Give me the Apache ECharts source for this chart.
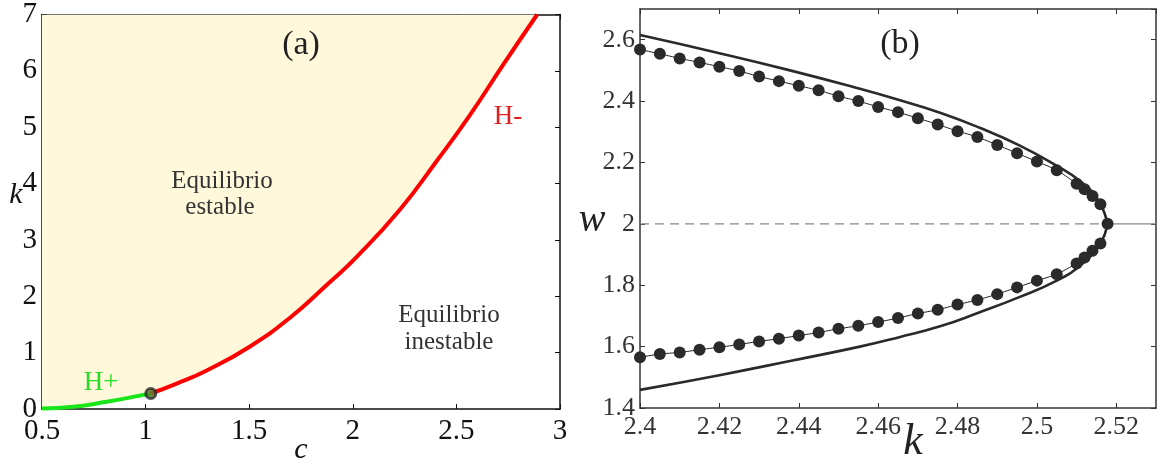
<!DOCTYPE html>
<html>
<head>
<meta charset="utf-8">
<script src="https://cdn.jsdelivr.net/npm/echarts@6/dist/echarts.min.js"></script>
<style>
html,body{margin:0;padding:0;background:#fff;}
#chart{width:1176px;height:471px;}
</style>
</head>
<body>
<div id="chart"></div>
<script>
// ---------- Panel (a) data: stability boundary k(c) ----------
const greenC = [0.5, 0.651, 0.812, 0.94, 1.025];
const greenK = [0.01, 0.04, 0.128, 0.215, 0.275];
const redC = [1.025, 1.15, 1.295, 1.504, 1.697, 1.874, 2.019, 2.228, 2.405, 2.566, 2.726, 2.89];
const redK = [0.275, 0.45, 0.683, 1.11, 1.62, 2.20, 2.70, 3.54, 4.40, 5.22, 6.11, 7.0];
const hopfPoint = [1.025, 0.275];

// ---------- Panel (b) data ----------
const outerUpperK = [2.4, 2.42, 2.4378, 2.4554, 2.4651, 2.4756, 2.4856, 2.4957, 2.505, 2.5108, 2.515, 2.5171, 2.5176];
const outerUpperW = [2.615, 2.556, 2.500, 2.440, 2.404, 2.362, 2.313, 2.255, 2.189, 2.140, 2.086, 2.032, 2.0];
const outerLowerK = [2.5171, 2.515, 2.5108, 2.505, 2.4957, 2.4856, 2.4756, 2.4651, 2.4554, 2.4378, 2.42, 2.4];
const outerLowerW = [1.966, 1.918, 1.863, 1.815, 1.762, 1.712, 1.666, 1.630, 1.600, 1.553, 1.507, 1.459];

const circUpperK = [2.400, 2.405, 2.410, 2.415, 2.420, 2.425, 2.430, 2.435, 2.440, 2.445, 2.450, 2.455, 2.460,
                    2.465, 2.470, 2.475, 2.480, 2.485, 2.490, 2.495, 2.500, 2.505, 2.510, 2.512, 2.514, 2.516, 2.5178];
const circUpperW = [2.568, 2.554, 2.539, 2.526, 2.512, 2.498, 2.480, 2.465, 2.450, 2.435, 2.416, 2.400, 2.381,
                    2.364, 2.344, 2.324, 2.302, 2.283, 2.257, 2.230, 2.203, 2.175, 2.131, 2.113, 2.091, 2.064, 2.0];
const circLowerK = [2.516, 2.514, 2.512, 2.510, 2.505, 2.500, 2.495, 2.490, 2.485, 2.480, 2.475, 2.470, 2.465, 2.460,
                    2.455, 2.450, 2.445, 2.440, 2.435, 2.430, 2.425, 2.420, 2.415, 2.410, 2.405, 2.400];
const circLowerW = [1.936, 1.912, 1.890, 1.871, 1.836, 1.815, 1.793, 1.771, 1.752, 1.737, 1.720, 1.708, 1.693, 1.680,
                    1.668, 1.658, 1.646, 1.636, 1.626, 1.617, 1.607, 1.598, 1.590, 1.581, 1.576, 1.565];

const equilibriumW = 2;
const kRangeB = [2.4, 2.5178, 2.53];

// axis ticks
const ticksA = { xMin: 0.5, xMax: 3, xStep: 0.5, yMin: 0, yMax: 7, yStep: 1 };
const ticksB = { xMin: 2.4, xMax: 2.53, xStep: 0.02, yMin: 1.4, yMax: 2.7, yStep: 0.2 };

const zip = (a, b) => a.map((v, i) => [v, b[i]]);

const SERIF = "'Liberation Serif', 'DejaVu Serif', serif";

function mainX(gi, t, fs, color, showMax, margin) {
  return {
    gridIndex: gi, type: 'value', position: 'bottom',
    min: t.xMin, max: t.xMax, interval: t.xStep,
    axisLine: { show: true, onZero: false, lineStyle: { color: color, width: 1.5 } },
    axisTick: { show: true, inside: true, length: 5, lineStyle: { color: color } },
    axisLabel: { show: true, margin: margin, color: color, fontFamily: SERIF, fontSize: fs, lineHeight: fs * 0.75,
      showMaxLabel: showMax, showMinLabel: true,
      formatter: v => String(+v.toFixed(2)) },
    splitLine: { show: false }
  };
}
function mirrorX(gi, t, color) {
  return {
    gridIndex: gi, type: 'value', position: 'top',
    min: t.xMin, max: t.xMax, interval: t.xStep,
    axisLine: { show: true, onZero: false, lineStyle: { color: color, width: 1.5 } },
    axisTick: { show: true, inside: true, length: 5, lineStyle: { color: color } },
    axisLabel: { show: false }, splitLine: { show: false }
  };
}
function mainY(gi, t, fs, color, showMax) {
  return {
    gridIndex: gi, type: 'value', position: 'left',
    min: t.yMin, max: t.yMax, interval: t.yStep,
    axisLine: { show: true, onZero: false, lineStyle: { color: color, width: 1.5 } },
    axisTick: { show: true, inside: true, length: 5, lineStyle: { color: color } },
    axisLabel: { show: true, margin: 5, color: color, fontFamily: SERIF, fontSize: fs, lineHeight: fs * 0.7,
      showMaxLabel: showMax,
      formatter: v => String(+v.toFixed(2)) },
    splitLine: { show: false }
  };
}
function mirrorY(gi, t, color) {
  return {
    gridIndex: gi, type: 'value', position: 'right',
    min: t.yMin, max: t.yMax, interval: t.yStep,
    axisLine: { show: true, onZero: false, lineStyle: { color: color, width: 1.5 } },
    axisTick: { show: true, inside: true, length: 5, lineStyle: { color: color } },
    axisLabel: { show: false }, splitLine: { show: false }
  };
}

function txt(text, x, y, size, color, italic) {
  return {
    type: 'text', z: 100,
    style: {
      text: text, x: x, y: y, align: 'center', verticalAlign: 'middle',
      fill: color, fontFamily: SERIF, fontSize: size, fontStyle: italic ? 'italic' : 'normal'
    }
  };
}

const chart = echarts.init(document.getElementById('chart'), null, { renderer: 'canvas' });

const fillData = zip(greenC, greenK).concat(zip(redC, redK).slice(1));

const option = {
  animation: false,
  backgroundColor: '#ffffff',
  textStyle: { fontFamily: SERIF },
  grid: [
    { left: 42, top: 9, width: 518, height: 400 },
    { left: 640, top: 9, width: 516, height: 399 }
  ],
  xAxis: [
    mainX(0, ticksA, 29, '#111', true, 12),
    mirrorX(0, ticksA, '#111'),
    mainX(1, ticksB, 26, '#333', false, 9),
    mirrorX(1, ticksB, '#333')
  ],
  yAxis: [
    mainY(0, ticksA, 29, '#111', true),
    mirrorY(0, ticksA, '#111'),
    mainY(1, ticksB, 26, '#333', false),
    mirrorY(1, ticksB, '#333')
  ],
  series: [
    // panel (a) stable region fill
    {
      type: 'line', xAxisIndex: 0, yAxisIndex: 0, data: fillData, smooth: 0.5,
      showSymbol: false, lineStyle: { width: 0, opacity: 0 },
      areaStyle: { color: '#fff8da', opacity: 1, origin: 'end' }, z: 1
    },
    {
      type: 'line', xAxisIndex: 0, yAxisIndex: 0, data: zip(greenC, greenK), smooth: 0.5,
      showSymbol: false, lineStyle: { color: '#19e619', width: 4 }, z: 3
    },
    {
      type: 'line', xAxisIndex: 0, yAxisIndex: 0, data: zip(redC, redK), smooth: 0.5,
      showSymbol: false, lineStyle: { color: '#ff0000', width: 4 }, z: 3
    },
    {
      type: 'scatter', xAxisIndex: 0, yAxisIndex: 0, data: [hopfPoint],
      symbol: 'circle', symbolSize: 10,
      itemStyle: { color: '#5a7a2a', borderColor: '#2b2b2b', borderWidth: 3 }, z: 5
    },
    // panel (b) equilibrium line
    {
      type: 'line', xAxisIndex: 2, yAxisIndex: 2,
      data: [[kRangeB[0], equilibriumW], [kRangeB[1], equilibriumW]],
      showSymbol: false, lineStyle: { color: '#888', width: 1.2, type: [9, 6] }, z: 1
    },
    {
      type: 'line', xAxisIndex: 2, yAxisIndex: 2,
      data: [[kRangeB[1], equilibriumW], [kRangeB[2], equilibriumW]],
      showSymbol: false, lineStyle: { color: '#888', width: 1.2 }, z: 1
    },
    // outer dotted curve
    {
      type: 'line', xAxisIndex: 2, yAxisIndex: 2,
      data: zip(outerUpperK, outerUpperW).concat(zip(outerLowerK, outerLowerW)),
      smooth: 0.5, showSymbol: false,
      lineStyle: { color: '#2a2a2a', width: 2.6 }, z: 2
    },
    // circles
    {
      type: 'line', xAxisIndex: 2, yAxisIndex: 2,
      data: zip(circUpperK, circUpperW).concat(zip(circLowerK, circLowerW)),
      smooth: 0.2, symbol: 'circle', symbolSize: 12, showSymbol: true,
      itemStyle: { color: '#2a2a2a' },
      lineStyle: { color: '#222', width: 1 }, z: 3
    }
  ],
  graphic: [
    txt('(a)', 301, 45, 34, '#222', false),
    txt('(b)', 900, 44, 34, '#222', false),
    txt('Equilibrio', 222, 181, 25, '#333', false),
    txt('estable', 220, 207, 25, '#333', false),
    txt('Equilibrio', 449, 315, 25, '#333', false),
    txt('inestable', 449, 342, 25, '#333', false),
    txt('H+', 101, 383, 27, '#22dd22', false),
    txt('H-', 508, 117, 27, '#e02020', false),
    txt('k', 16, 195, 30, '#111', true),
    txt('c', 301, 450, 30, '#111', true),
    txt('w', 592, 220, 40, '#222', true),
    txt('k', 913, 442, 44, '#222', true)
  ]
};
chart.setOption(option);
</script>
</body>
</html>
